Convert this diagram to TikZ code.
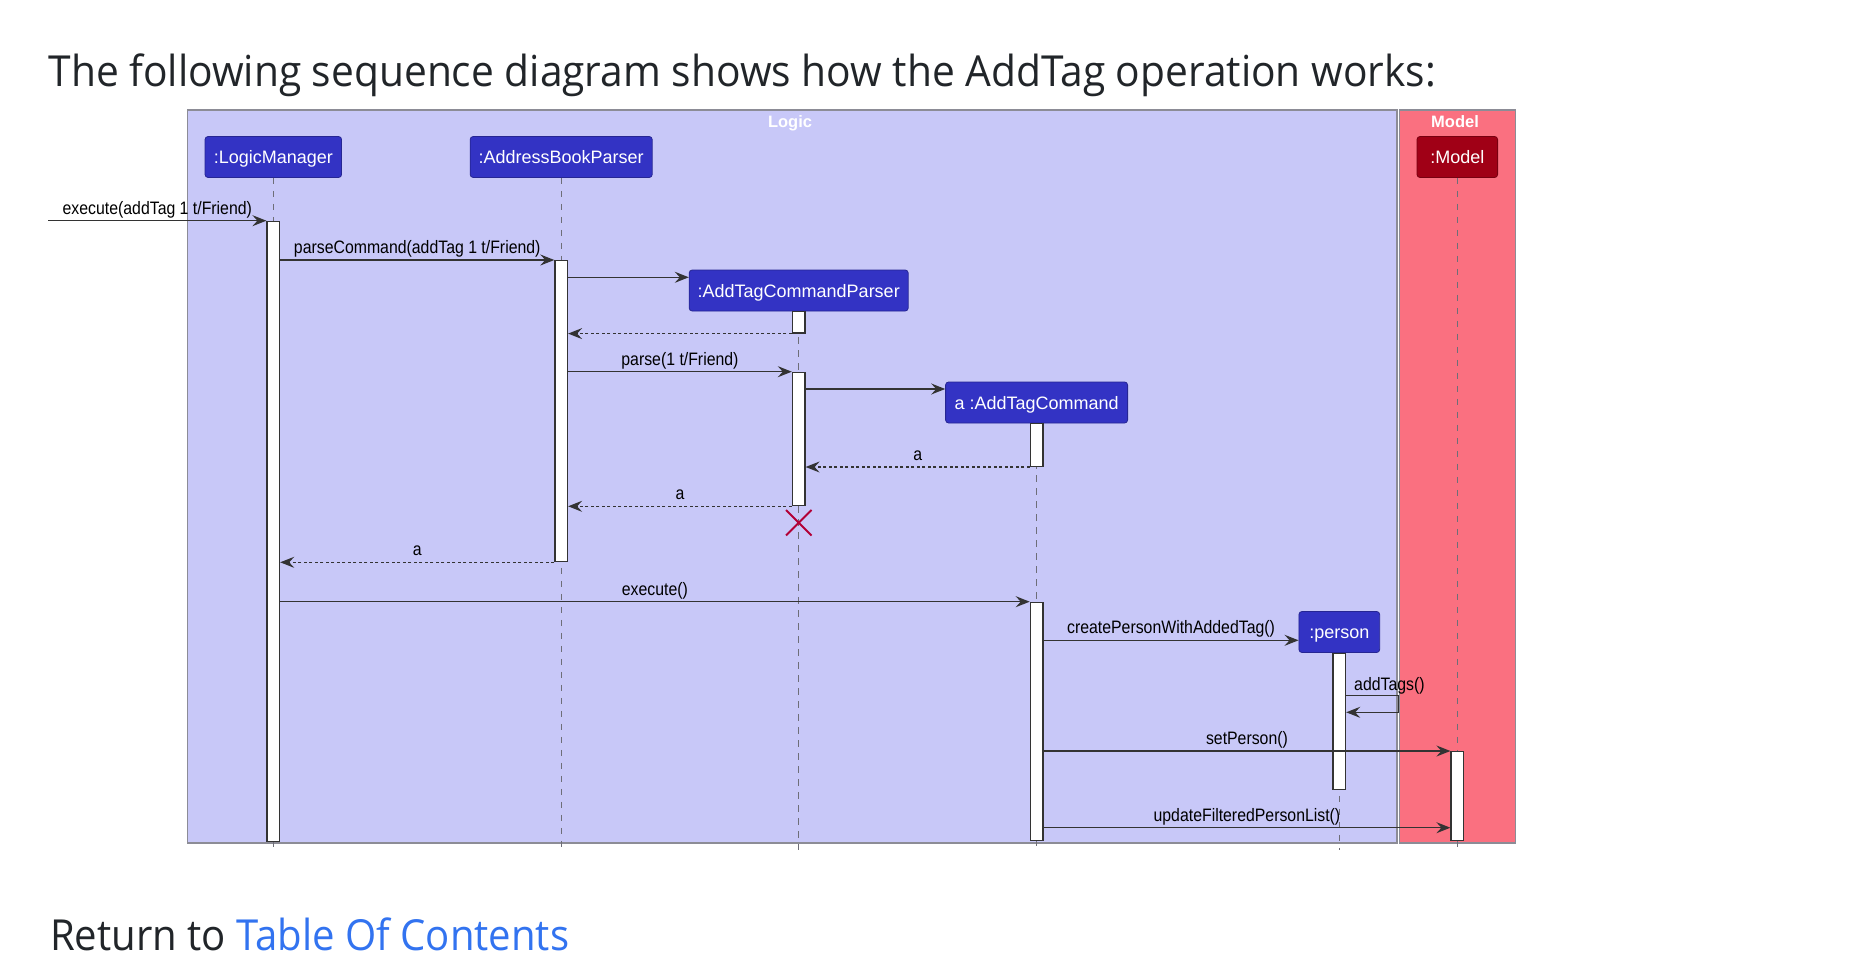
\documentclass[tikz,border=0pt]{standalone}
\usepackage{fontspec}
\usepackage{graphicx}
\setmainfont{Liberation Sans}
\newfontfamily\titlefont{Open Sans}
\newfontfamily\msgfont[FakeStretch=0.88]{Liberation Sans}
\newfontfamily\partfont{Liberation Sans}
\usetikzlibrary{arrows.meta}
\definecolor{logicbg}{RGB}{200,200,248}
\definecolor{modelbg}{RGB}{250,112,128}
\definecolor{framegray}{RGB}{140,140,150}
\definecolor{partblue}{RGB}{51,51,196}
\definecolor{partred}{RGB}{160,0,22}
\definecolor{inkgray}{RGB}{51,51,51}
\definecolor{lifegray}{RGB}{110,110,120}
\definecolor{destroyred}{RGB}{178,0,54}
\definecolor{titleink}{RGB}{33,37,41}
\definecolor{linkblue}{RGB}{50,115,240}
\tikzset{
  frame/.style={draw=framegray, line width=1.3},
  part/.style={rectangle, rounded corners=3pt, fill=partblue, draw=partblue!75!black, line width=0.8,
    text=white, font=\partfont\fontsize{18}{20}\selectfont, inner sep=0pt,
    minimum height=41, text height=15, text depth=2},
  partm/.style={part, fill=partred, draw=partred!75!black},
  act/.style={rectangle, fill=white, draw=inkgray, line width=1.3, inner sep=0pt, minimum width=12.5, anchor=north},
  life/.style={draw=lifegray, line width=1, dash pattern=on 6.5 off 6.5},
  msg/.style={draw=inkgray, line width=1.3, -{Stealth[length=14pt,width=11pt,inset=5pt]}},
  ret/.style={msg, dash pattern=on 3 off 2.5},
  lbltext/.style={inner sep=0pt, text=black, font=\msgfont\fontsize{18}{20}\selectfont},
  lbl/.style={lbltext, anchor=base, yshift=6.5pt},
  framelbl/.style={anchor=base, inner sep=0pt, text=white, font=\bfseries\fontsize{16.5}{18}\selectfont},
}
\begin{document}
\begin{tikzpicture}[x=1pt,y=-1pt]
\useasboundingbox (0,0) rectangle (1864,974);
\fill[white] (0,0) rectangle (1864,974);
% title
\node[anchor=base west, inner sep=0pt, text=titleink] (title) at (48.3,86.7)
  {\resizebox{1387pt}{32.7pt}{\titlefont The following sequence diagram shows how the AddTag operation works:}};
% frames
\path[frame, fill=logicbg] (187.5,110) rectangle (1397,843);
\path[frame, fill=modelbg] (1399.3,110) rectangle (1515.3,843);
\node[framelbl] (logiclbl) at (790,127.5) {Logic};
\node[framelbl] (modellbl) at (1455,127.5) {Model};
% participants
\node[part, minimum width=136.5] (pLM) at (273.3,157) {:LogicManager};
\node[part, minimum width=182] (pABP) at (561.2,157) {:AddressBookParser};
\node[part, minimum width=219] (pACP) at (798.7,290.5) {:AddTagCommandParser};
\node[part, minimum width=182] (pAC) at (1036.6,402.5) {a :AddTagCommand};
\node[part, minimum width=80.7] (pPer) at (1339.3,632) {:person};
\node[partm, minimum width=80.6] (pM) at (1457.3,157) {:Model};
% lifelines
\coordinate (eLM) at (273.3,850);
\coordinate (eABP) at (561.2,850);
\coordinate (eACP) at (798.7,850);
\coordinate (eAC) at (1036.6,850);
\coordinate (ePer) at (1339.3,850);
\coordinate (eM) at (1457.3,850);
\draw[life] (pLM.south) -- (eLM);
\draw[life] (pABP.south) -- (eABP);
\draw[life] (pACP.south) -- (eACP);
\draw[life] (pAC.south) -- (eAC);
\draw[life] (pPer.south) -- (ePer);
\draw[life] (pM.south) -- (eM);
% activations
\node[act, minimum height=619.8] (aLM) at (273.3,220.7) {};
\node[act, minimum height=301] (aABP) at (561.2,260) {};
\node[act, minimum height=21.3] (aP1) at (798.7,311) {};
\node[act, minimum height=133.3] (aP2) at (798.7,371.7) {};
\node[act, minimum height=42.7] (aC1) at (1036.6,423) {};
\node[act, minimum height=238.3] (aC2) at (1036.6,601.7) {};
\node[act, minimum height=136.3] (aPer) at (1339.3,652.7) {};
\node[act, minimum height=89] (aM) at (1457.3,751) {};
% messages
\coordinate (ext) at (48.2,220.7);
\draw[msg] (ext) -- (aLM.north west) node[lbl, midway] {execute(addTag 1 t/Friend)};
\draw[msg] (aLM.east |- aABP.north) -- (aABP.north west) node[lbl, midway] {parseCommand(addTag 1 t/Friend)};
\draw[msg] (aABP.east |- 0,277.3) -- (pACP.west |- 0,277.3);
\draw[ret] (aP1.south west) -- (aABP.east |- aP1.south);
\draw[msg] (aABP.east |- aP2.north) -- (aP2.north west) node[lbl, midway] {parse(1 t/Friend)};
\draw[msg] (aP2.east |- 0,389) -- (pAC.west |- 0,389);
\draw[ret] (aC1.south west) -- (aP2.east |- aC1.south) node[lbl, midway] {a};
\draw[ret] (aP2.south west) -- (aABP.east |- aP2.south) node[lbl, midway] {a};
\draw[ret] (aABP.south west) -- (aLM.east |- aABP.south) node[lbl, midway] {a};
\draw[msg] (aLM.east |- aC2.north) -- (aC2.north west) node[lbl, midway] {execute()};
\draw[msg] (aC2.east |- 0,640.3) -- (pPer.west |- 0,640.3) node[lbl, midway] {createPersonWithAddedTag()};
\coordinate (selfA) at (1398.2,695.7);
\coordinate (selfB) at (1398.2,712.3);
\draw[msg] (aPer.east |- selfA) -- (selfA) -- (selfB) -- (aPer.east |- selfB);
\node[lbltext, anchor=base west] (addtagslbl) at (1354,690) {addTags()};
\draw[msg] (aC2.east |- aM.north) -- (aM.north west) node[lbl, midway] {setPerson()};
\draw[msg] (aC2.east |- 0,827.7) -- (aM.west |- 0,827.7) node[lbl, midway] {updateFilteredPersonList()};
% destroy
\draw[destroyred, line width=2] (786,510) -- (811.5,535.5) (786,535.5) -- (811.5,510);
% footer
\node[anchor=base west, inner sep=0pt, text=titleink] (ret) at (50,950)
  {\resizebox{519pt}{32.7pt}{\titlefont Return to \textcolor{linkblue}{Table Of Contents}}};
\end{tikzpicture}
\end{document}
